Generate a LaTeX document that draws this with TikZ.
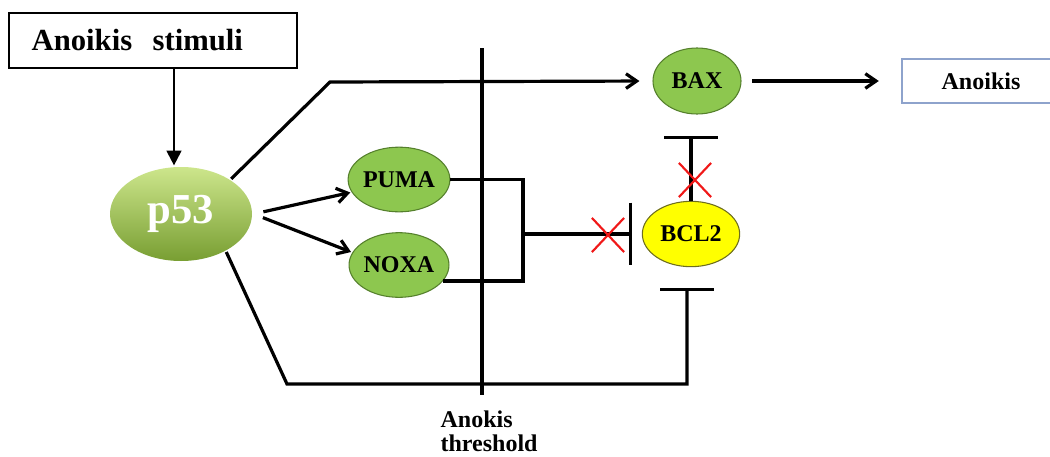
\documentclass[tikz,border=0pt]{standalone}
\usepackage{fontspec}
\setmainfont{Liberation Serif}
\usepackage{tikz}
\usetikzlibrary{arrows.meta,shapes.geometric,shapes.misc}
\definecolor{apgreen}{HTML}{8DC74F}
\definecolor{apgreendk}{HTML}{55802C}
\definecolor{apyellow}{HTML}{FFFF00}
\definecolor{apyellowdk}{HTML}{6E6E1E}
\definecolor{aplight}{HTML}{CDE68C}
\definecolor{apdark}{HTML}{789E32}
\definecolor{apblue}{HTML}{8EA3CC}
\definecolor{apred}{HTML}{F01818}

\begin{document}
\begin{tikzpicture}[x=0.75pt,y=-0.75pt,line width=2.4pt,
  prot/.style={ellipse,draw=apgreendk,line width=0.8pt,fill=apgreen,inner sep=0pt,
               font=\bfseries\fontsize{18}{20}\selectfont},
  act/.style={-{Straight Barb[length=8pt,width=11pt]}},
  inhib/.style={-{Bar[width=#1]}},
  nox/.style={cross out,draw=apred,line width=1.6pt,minimum width=22.5pt,
              minimum height=24pt,inner sep=0pt}]
\useasboundingbox (0,0) rectangle (1050,457);

\node[draw,line width=1.6pt,minimum width=216pt,minimum height=41pt,text width=182pt,
      inner xsep=17pt,align=left,font=\bfseries\fontsize{23}{25}\selectfont] (stim) at (153,40.5) {Anoikis~~stimuli};
\node[ellipse,minimum width=106.5pt,minimum height=70.5pt,top color=aplight,bottom color=apdark,
      text=white,font=\bfseries\fontsize{32}{34}\selectfont] (p53) at (181,214) {p53};
\node[prot,minimum width=66pt,minimum height=49.5pt] (bax) at (697,81) {BAX};
\node[prot,minimum width=73.5pt,minimum height=48.5pt] (puma) at (399,179.5) {PUMA};
\node[prot,minimum width=73.5pt,minimum height=48.5pt] (noxa) at (399,265) {NOXA};
\node[prot,fill=apyellow,draw=apyellowdk,minimum width=73pt,minimum height=49pt] (bcl2) at (691,234) {BCL2};
\node[draw=apblue,line width=0.8pt,minimum width=118.5pt,minimum height=33pt,
      font=\bfseries\fontsize{18}{20}\selectfont] (anoikis) at (981,81) {Anoikis};
\node[anchor=north west,align=left,inner sep=0pt,font=\bfseries\fontsize{18}{18}\selectfont] (thr) at (439,409) {Anokis\\threshold};

\draw (482,48) -- (482,395);

\coordinate (stimfoot) at ([xshift=15.75pt]stim.south);
\draw[-{Triangle[length=11pt,width=11pt]},line width=1.6pt] (stimfoot) -- (stimfoot |- p53.north);

\coordinate (bend1) at (330,82);
\draw[act,shorten >=9.75pt] (p53.35) -- (bend1) -- (bax.west);
\draw[act,shorten <=8pt,shorten >=17pt] (bax.east) -- (anoikis.west);
\draw[act,shorten <=7.5pt,shorten >=1pt] (p53.east) -- (puma.195);
\draw[act,shorten <=7.5pt,shorten >=1pt] (p53.east) -- (noxa.165);

\coordinate (join) at (523,234);
\draw (puma.east) -| (join) |- (noxa.-20);
\draw[inhib=47pt,shorten >=7.5pt] (join) -- (join -| bcl2.west);
\node[nox] (x1) at (608,235) {};

\draw[inhib=40pt] (bcl2.north) -- ++(0,-65);
\node[nox] (x2) at (695,180) {};

\coordinate (low1) at (287,384);
\coordinate (low2) at (687,384);
\draw[inhib=40pt] (p53.-40) -- (low1) -- (low2) -- ++(0,-96);
\end{tikzpicture}
\end{document}
